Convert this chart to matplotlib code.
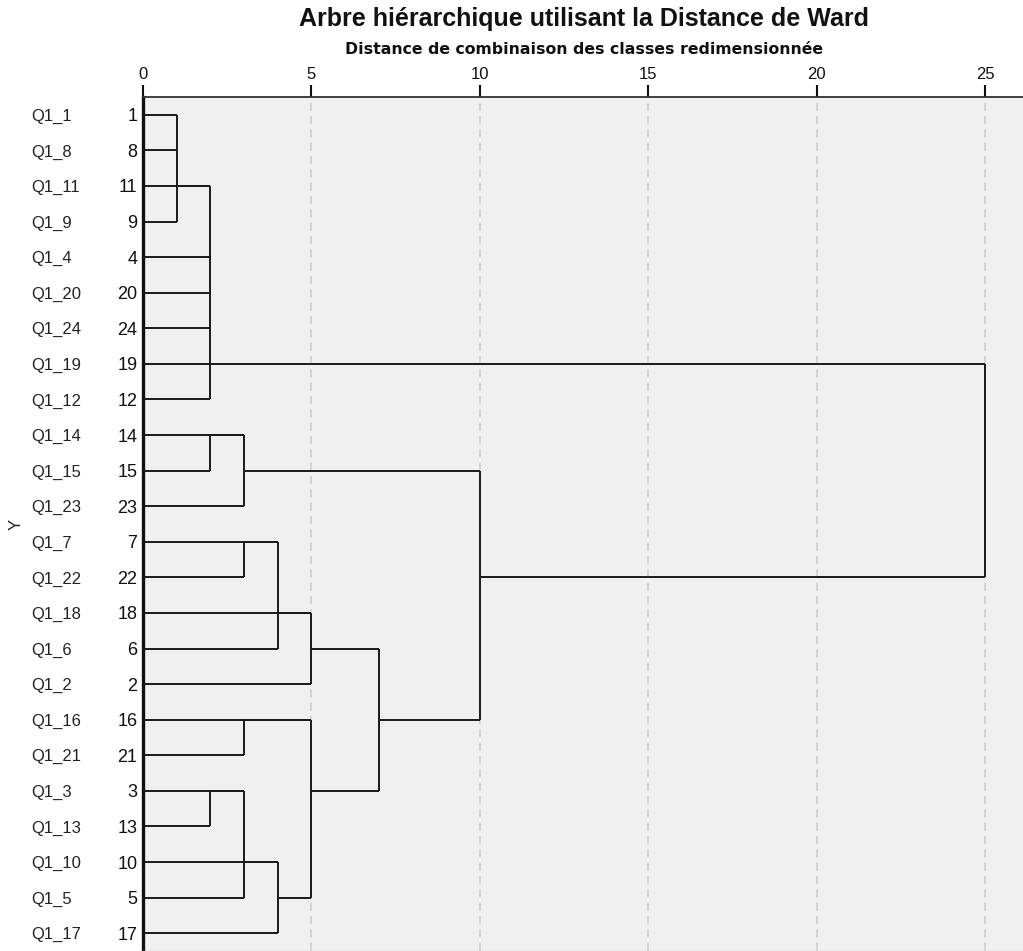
import matplotlib.pyplot as plt
from matplotlib.transforms import blended_transform_factory

plt.rcParams["font.family"] = ["Liberation Sans", "DejaVu Sans"]

# feuilles dans l'ordre d'affichage (de haut en bas)
case_names = ["Q1_1", "Q1_8", "Q1_11", "Q1_9", "Q1_4", "Q1_20", "Q1_24", "Q1_19",
              "Q1_12", "Q1_14", "Q1_15", "Q1_23", "Q1_7", "Q1_22", "Q1_18", "Q1_6",
              "Q1_2", "Q1_16", "Q1_21", "Q1_3", "Q1_13", "Q1_10", "Q1_5", "Q1_17"]
case_numbers = [1, 8, 11, 9, 4, 20, 24, 19, 12, 14, 15, 23, 7, 22, 18, 6,
                2, 16, 21, 3, 13, 10, 5, 17]

# distance où chaque feuille rejoint sa première classe
leaf_dist = [1, 1, 2, 1, 2, 2, 2, 2, 2, 3, 2, 3, 4, 3, 5, 4, 5, 5, 3, 3, 2, 4, 3, 4]

# fusions : distance, première ligne, dernière ligne, ligne de sortie, distance du parent
merge_dist = [1, 2, 2, 3, 3, 4, 5, 3, 2, 3, 4, 5, 7, 10, 25]
merge_top = [0, 2, 9, 9, 12, 12, 14, 17, 19, 19, 21, 17, 15, 10, 7]
merge_bottom = [3, 8, 10, 11, 13, 15, 16, 18, 20, 22, 23, 22, 19, 17, 13]
merge_out_row = [2, 7, 9, 10, 12, 14, 15, 17, 19, 21, 22, 19, 17, 13, None]
merge_parent = [2, 25, 3, 10, 4, 5, 7, 5, 3, 4, 5, 7, 10, 25, None]

x_ticks = [0, 5, 10, 15, 20, 25]

LINE_COLOR = "#1a1a1a"

fig = plt.figure(figsize=(10.23, 9.51), dpi=100)
ax = fig.add_axes([143 / 1023, 0.0, 1 - 143 / 1023, 1 - 97 / 951])
ax.set_facecolor("#f0f0f0")

rows = list(range(len(case_names)))

# lignes des feuilles
ax.hlines(rows, 0, leaf_dist, color=LINE_COLOR, linewidth=1.4, zorder=3)

# traits verticaux des fusions et liaisons vers le parent
ax.vlines(merge_dist, merge_top, merge_bottom, color=LINE_COLOR,
          linewidth=1.4, zorder=3)
for d, row, parent in zip(merge_dist, merge_out_row, merge_parent):
    if row is not None:
        ax.hlines(row, d, parent, color=LINE_COLOR, linewidth=1.4, zorder=3)

ax.set_xlim(0, 26.13)
ax.set_ylim(23.5, -0.5)

ax.xaxis.tick_top()
ax.set_xticks(x_ticks)
ax.set_xticklabels([str(t) for t in x_ticks], fontsize=12, color="#111111")
ax.tick_params(axis="x", direction="out", length=8.6, width=1.5, pad=2,
               color="#111111")
ax.grid(axis="x", color="#cfcfcf", linestyle=(0, (5, 3)), linewidth=1.2, zorder=1)
ax.grid(axis="y", visible=False)

ax.set_yticks(rows)
ax.set_yticklabels([str(n) for n in case_numbers], fontsize=13, color="#111111")
ax.tick_params(axis="y", length=0, pad=4)

ax.spines["left"].set_linewidth(2.4)
ax.spines["left"].set_color("#111111")
ax.spines["top"].set_linewidth(1.3)
ax.spines["top"].set_color("#333333")
ax.spines["bottom"].set_color("#c8c8c8")
ax.spines["bottom"].set_linewidth(1.0)
ax.spines["right"].set_visible(False)

# noms des cas à gauche
trans = blended_transform_factory(fig.transFigure, ax.transData)
for row, name in zip(rows, case_names):
    ax.text(31 / 1023, row, name, transform=trans, ha="left",
            va="center_baseline", fontsize=12, color="#222222")

fig.text(16 / 1023, 1 - 524 / 951, "Y", rotation=90, ha="center", va="center",
         fontsize=12, color="#222222")

fig.text(584 / 1023, 1 - 19 / 951, "Arbre hiérarchique utilisant la Distance de Ward",
         ha="center", va="center", fontsize=18, fontweight="bold", color="#111111")
fig.text(584 / 1023, 1 - 49 / 951, "Distance de combinaison des classes redimensionnée",
         ha="center", va="center", fontsize=11.3, fontweight="bold",
         family="DejaVu Sans", color="#111111")

fig.savefig("out.png", dpi=100)
